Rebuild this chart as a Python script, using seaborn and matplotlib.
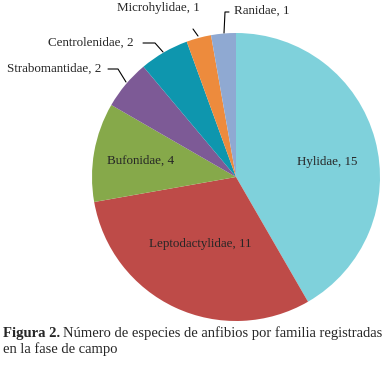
import matplotlib
matplotlib.use("Agg")
import matplotlib.pyplot as plt
import seaborn as sns

families = ["Hylidae", "Leptodactylidae", "Bufonidae", "Strabomantidae",
            "Centrolenidae", "Microhylidae", "Ranidae"]
counts = [15, 11, 4, 2, 2, 1, 1]
colors = ["#7fd1db", "#be4b48", "#86a94a", "#7d5a96", "#0e96ae", "#ed8b3d", "#8fa9d2"]

sns.set_theme(style="white")
plt.rcParams["font.family"] = ["Liberation Serif", "DejaVu Serif"]

W, H = 387, 374
CX, CY, R = 236, 177, 144


def px(x, y):
    # pixel position (from top-left) to data coordinates of the unit pie
    return (x - CX) / R, (CY - y) / R


fig = plt.figure(figsize=(W / 100, H / 100), dpi=100)
ax = fig.add_axes([0, 0, 1, 1])
ax.pie(counts, colors=colors, startangle=90, counterclock=False, radius=1,
       wedgeprops=dict(linewidth=0))
ax.set_xlim(-CX / R, (W - CX) / R)
ax.set_ylim((CY - H) / R, CY / R)
ax.set_aspect("auto")
ax.axis("off")

fs = 9.4
# inside labels
ax.text(*px(327, 162), f"{families[0]}, {counts[0]}", fontsize=fs, ha="center", va="center")
ax.text(*px(200, 244), f"{families[1]}, {counts[1]}", fontsize=fs, ha="center", va="center")
ax.text(*px(141, 161), f"{families[2]}, {counts[2]}", fontsize=fs, ha="center", va="center")

# outside labels with leader lines
ax.text(*px(101, 69), f"{families[3]}, {counts[3]}", fontsize=fs, ha="right", va="center")
ax.plot(*zip(px(108, 69), px(118, 69), px(126, 82)), color="black", lw=0.8)

ax.text(*px(134, 43), f"{families[4]}, {counts[4]}", fontsize=fs, ha="right", va="center")
ax.plot(*zip(px(143, 43), px(155, 43), px(163, 52)), color="black", lw=0.8)

ax.text(*px(158, 8), f"{families[5]}, {counts[5]}", fontsize=fs, ha="center", va="center")
ax.plot(*zip(px(193, 29), px(198, 36)), color="black", lw=0.8)

ax.text(*px(234, 11), f"{families[6]}, {counts[6]}", fontsize=fs, ha="left", va="center")
ax.plot(*zip(px(229, 12), px(225, 12), px(224, 33)), color="black", lw=0.8)

# caption
cfs = 10.5
bold = fig.text(3 / W, 1 - 333 / H, "Figura 2.", fontsize=cfs, fontweight="bold",
                ha="left", va="center")
renderer = fig.canvas.get_renderer()
bb = bold.get_window_extent(renderer=renderer)
fig.text((bb.x1 + 3) / W, 1 - 333 / H, "Número de especies de anfibios por familia registradas",
         fontsize=cfs, ha="left", va="center")
fig.text(3 / W, 1 - 349 / H, "en la fase de campo", fontsize=cfs, ha="left", va="center")

plt.savefig("out.png", dpi=100)
